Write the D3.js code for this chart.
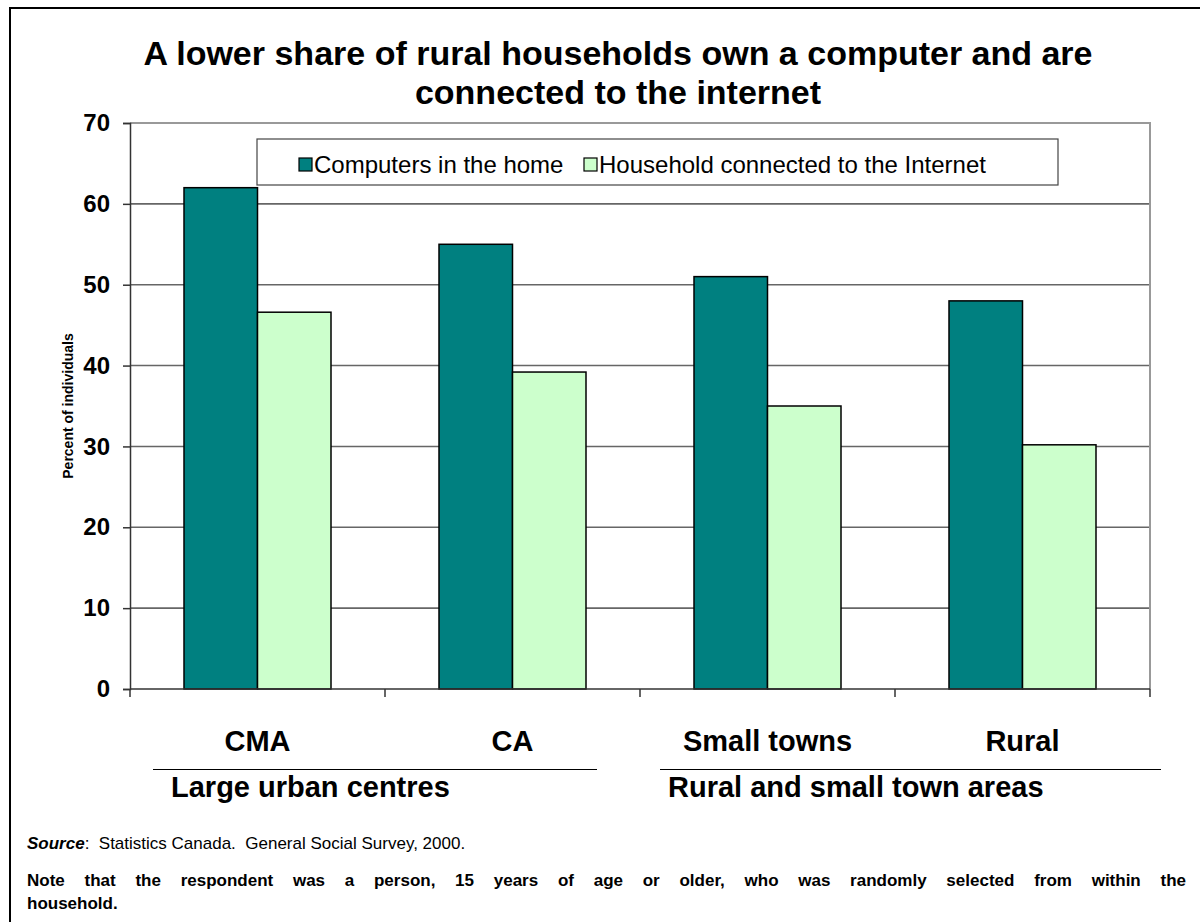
<!DOCTYPE html>
<html>
<head>
<meta charset="utf-8">
<script src="https://cdn.jsdelivr.net/npm/d3@7"></script>
<style>
  body { margin: 0; background: #fff; }
  svg text { font-family: Arial, "Liberation Sans", sans-serif; fill: #000; }
</style>
</head>
<body>
<svg id="chart" width="1200" height="922"></svg>
<script>
// ---- data ----
const categories = ["CMA", "CA", "Small towns", "Rural"];
const seriesNames = ["Computers in the home", "Household connected to the Internet"];
const computers = [62, 55, 51, 48];
const internet = [46.6, 39.2, 35.0, 30.2];
const yTicks = [0, 10, 20, 30, 40, 50, 60, 70];
const groupLabels = ["Large urban centres", "Rural and small town areas"];
const groupMembers = [["CMA", "CA"], ["Small towns", "Rural"]];
const titleLines = ["A lower share of rural households own a computer and are", "connected to the internet"];
const yTitle = "Percent of individuals";
const sourceText = ":  Statistics Canada.  General Social Survey, 2000.";
const noteLines = [
  "Note that the respondent was a person, 15 years of age or older, who was randomly selected from within the",
  "household."
];

const colors = ["#008080", "#CCFFCC"];

// ---- layout ----
const svg = d3.select("#chart");
const plot = { left: 130, right: 1150, top: 123, bottom: 689 };

// outer frame (runs past the right and bottom edges)
svg.append("rect")
  .attr("x", 10).attr("y", 8).attr("width", 1250).attr("height", 1000)
  .attr("fill", "none").attr("stroke", "#000").attr("stroke-width", 2);

// title
svg.append("g").selectAll("text").data(titleLines).join("text")
  .attr("x", 618).attr("y", (d, i) => 65 + i * 39)
  .attr("text-anchor", "middle")
  .style("font-size", "34px").style("font-weight", "bold")
  .text(d => d);

// scales
const x = d3.scaleBand().domain(categories).range([plot.left, plot.right]).padding(0);
const groupPad = 54;
const xs = d3.scaleBand().domain(seriesNames)
  .range([groupPad, x.bandwidth() - groupPad]).padding(0);
const y = d3.scaleLinear().domain([0, 70]).range([plot.bottom, plot.top]);

// gridlines
svg.append("g").selectAll("line").data(yTicks.filter(t => t > 0 && t < 70)).join("line")
  .attr("x1", plot.left).attr("x2", plot.right)
  .attr("y1", d => y(d)).attr("y2", d => y(d))
  .attr("stroke", "#666").attr("stroke-width", 1.6);

// plot area top / right border
svg.append("path")
  .attr("d", `M${plot.left},${y(70)}H${plot.right}V${plot.bottom}`)
  .attr("fill", "none").attr("stroke", "#999").attr("stroke-width", 2);

// y axis
const yAxis = d3.axisLeft(y).tickValues(yTicks).tickSize(7).tickPadding(13);
const gy = svg.append("g").attr("transform", `translate(${plot.left},0)`).call(yAxis);
gy.select(".domain").attr("stroke", "#333").attr("stroke-width", 1.5);
gy.selectAll(".tick line").attr("stroke", "#333").attr("stroke-width", 1.5);
gy.selectAll(".tick text")
  .style("font-size", "24px").style("font-weight", "bold")
  .style("font-family", "Arial, 'Liberation Sans', sans-serif")
  .attr("fill", "#000");

// y title
svg.append("text")
  .attr("transform", `translate(73,${(plot.top + plot.bottom) / 2}) rotate(-90)`)
  .attr("text-anchor", "middle")
  .style("font-size", "14px").style("font-weight", "bold")
  .text(yTitle);

// bars
const rows = categories.map((c, i) => ({ cat: c, vals: [computers[i], internet[i]] }));
const bars = svg.append("g").selectAll("g").data(rows).join("g")
  .attr("transform", d => `translate(${x(d.cat)},0)`);
bars.selectAll("rect").data(d => d.vals.map((v, k) => ({ v, s: seriesNames[k], k }))).join("rect")
  .attr("x", d => xs(d.s))
  .attr("width", xs.bandwidth())
  .attr("y", d => y(d.v))
  .attr("height", d => y(0) - y(d.v))
  .attr("fill", d => colors[d.k])
  .attr("stroke", "#000").attr("stroke-width", 1.5);

// x axis (baseline with category-boundary ticks)
const gx = svg.append("g");
gx.append("line")
  .attr("x1", plot.left).attr("x2", plot.right)
  .attr("y1", plot.bottom).attr("y2", plot.bottom)
  .attr("stroke", "#333").attr("stroke-width", 1.5);
const bounds = categories.map(c => x(c)).concat([x(categories[categories.length - 1]) + x.bandwidth()]);
gx.selectAll("line.tk").data(bounds).join("line").attr("class", "tk")
  .attr("x1", d => d).attr("x2", d => d)
  .attr("y1", plot.bottom).attr("y2", plot.bottom + 8)
  .attr("stroke", "#333").attr("stroke-width", 1.5);

// category labels
svg.append("g").selectAll("text").data(categories).join("text")
  .attr("x", d => x(d) + x.bandwidth() / 2)
  .attr("y", 751)
  .attr("text-anchor", "middle")
  .style("font-size", "29px").style("font-weight", "bold")
  .text(d => d);

// group brackets and labels
const groupGeom = groupMembers.map((m, i) => {
  const a = x(m[0]), b = x(m[m.length - 1]) + x.bandwidth();
  return i === 0
    ? { x1: a + 23, x2: b - 43, tx: a + 41 }
    : { x1: a + 20, x2: b + 11, tx: a + 28 };
});
svg.append("g").selectAll("line").data(groupGeom).join("line")
  .attr("x1", d => d.x1).attr("x2", d => d.x2)
  .attr("y1", 769.5).attr("y2", 769.5)
  .attr("stroke", "#000").attr("stroke-width", 1.2);
svg.append("g").selectAll("text").data(groupLabels).join("text")
  .attr("x", (d, i) => groupGeom[i].tx)
  .attr("y", 797)
  .style("font-size", "29px").style("font-weight", "bold")
  .text(d => d);

// legend
const lg = svg.append("g");
lg.append("rect")
  .attr("x", 257).attr("y", 139).attr("width", 801).attr("height", 46)
  .attr("fill", "#fff").attr("stroke", "#444").attr("stroke-width", 1.2);
const legendX = [299, 584];
const items = lg.selectAll("g.item").data(seriesNames).join("g").attr("class", "item")
  .attr("transform", (d, i) => `translate(${legendX[i]},158)`);
items.append("rect")
  .attr("width", 13).attr("height", 13)
  .attr("fill", (d, i) => colors[i]).attr("stroke", "#000").attr("stroke-width", 1.2);
items.append("text")
  .attr("x", 15).attr("y", 15)
  .style("font-size", "24px")
  .text(d => d);

// source line
const src = svg.append("text").attr("x", 27).attr("y", 849)
  .style("font-size", "17px").style("white-space", "pre");
src.append("tspan").style("font-weight", "bold").style("font-style", "italic").text("Source");
src.append("tspan").text(sourceText);

// note, justified across the frame width
const noteLeft = 27, noteRight = 1186;
noteLines.forEach((line, i) => {
  const t = svg.append("text")
    .attr("x", noteLeft).attr("y", 886 + i * 23)
    .style("font-size", "17px").style("font-weight", "bold")
    .text(line);
  if (i < noteLines.length - 1) {
    const w = t.node().getComputedTextLength();
    const gaps = line.split(" ").length - 1;
    t.style("word-spacing", ((noteRight - noteLeft - w) / gaps) + "px");
  }
});
</script>
</body>
</html>
